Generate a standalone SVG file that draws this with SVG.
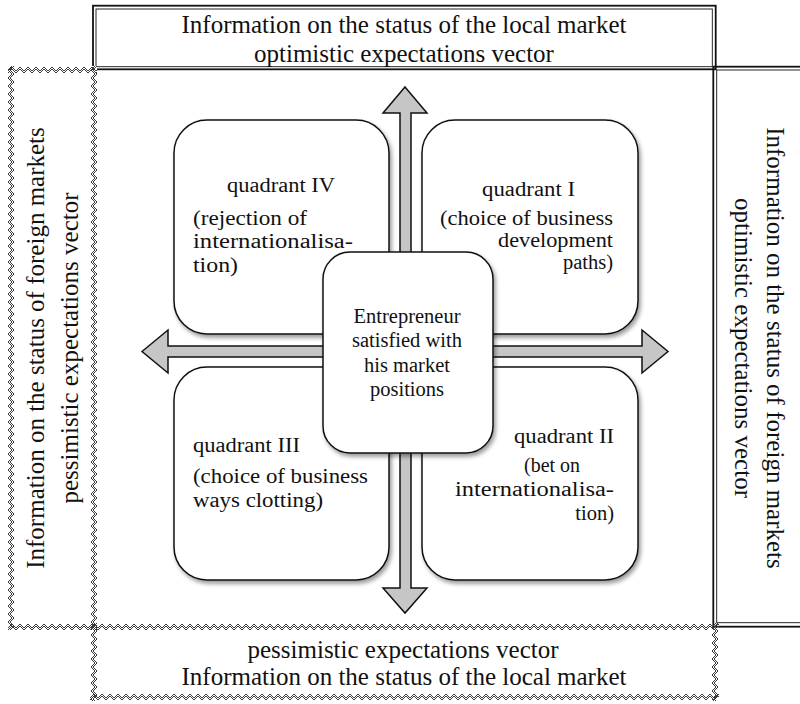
<svg xmlns="http://www.w3.org/2000/svg" width="800" height="704" viewBox="0 0 800 704">
  <style>
    .serif { font-family: "Liberation Serif", "Times New Roman", serif; fill: #111; }
    .big { font-size: 25px; }
    .mid { font-size: 20.5px; }
    .q { font-size: 20.5px; }
    .outer { fill: none; stroke: #111; stroke-width: 1.8; }
    .inner { fill: none; stroke: #111; stroke-width: 0.9; }
    .box { fill: #fff; stroke: #111; stroke-width: 1.5; }
    .arrow { fill: #c6c6c6; stroke: #111; stroke-width: 1.5; stroke-linejoin: miter; }
    .zz { fill: none; stroke: #3a3a3a; stroke-width: 1; }
  </style>
  <defs>
    <!-- wavy double border, horizontal and vertical strips -->
    <pattern id="zzH" width="8" height="8" patternUnits="userSpaceOnUse">
      <polyline class="zz" points="0,5 4,1 8,5"/>
      <polyline class="zz" points="0,7 4,3 8,7"/>
    </pattern>
    <pattern id="zzV" width="8" height="8" patternUnits="userSpaceOnUse">
      <polyline class="zz" points="5,0 1,4 5,8"/>
      <polyline class="zz" points="7,0 3,4 7,8"/>
    </pattern>
    <filter id="shadow" x="-10%" y="-10%" width="125%" height="125%">
      <feDropShadow dx="2" dy="3" stdDeviation="2.2" flood-color="#000" flood-opacity="0.4"/>
    </filter>
  </defs>

  <rect width="800" height="704" fill="#fff"/>

  <!-- top: local market, optimistic -->
  <g id="top-box">
    <rect class="outer" x="93" y="5.7" width="622.7" height="63.6"/>
    <rect class="inner" x="96" y="9" width="616.3" height="57.7"/>
    <text class="serif big" x="404" y="33" text-anchor="middle">Information on the status of the local market</text>
    <text class="serif big" x="404" y="61.5" text-anchor="middle">optimistic expectations vector</text>
  </g>

  <!-- right: foreign markets, optimistic -->
  <g id="right-box">
    <rect class="outer" x="713.3" y="66.7" width="95" height="560"/>
    <rect class="inner" x="716.7" y="70" width="95" height="552.7"/>
    <text class="serif big" transform="translate(767,348) rotate(90)" text-anchor="middle">Information on the status of foreign markets</text>
    <text class="serif big" transform="translate(735,348) rotate(90)" text-anchor="middle">optimistic expectations vector</text>
  </g>

  <!-- left: foreign markets, pessimistic -->
  <g id="left-box">
    <rect x="8" y="66" width="89" height="564" fill="#fff"/>
    <rect fill="url(#zzH)" width="89" height="8" transform="translate(8,66)"/>
    <rect fill="url(#zzH)" width="89" height="8" transform="translate(8,623)"/>
    <rect fill="url(#zzV)" width="8" height="564" transform="translate(7,66)"/>
    <rect fill="url(#zzV)" width="8" height="564" transform="translate(90,66)"/>
    <text class="serif big" transform="translate(44,348) rotate(-90)" text-anchor="middle">Information on the status of foreign markets</text>
    <text class="serif big" transform="translate(78,348) rotate(-90)" text-anchor="middle">pessimistic expectations vector</text>
  </g>

  <!-- bottom: local market, pessimistic -->
  <g id="bottom-box">
    <rect fill="url(#zzH)" width="629" height="8" transform="translate(90,623)"/>
    <rect fill="url(#zzH)" width="629" height="8" transform="translate(90,693)"/>
    <rect fill="url(#zzV)" width="8" height="78" transform="translate(90,623)"/>
    <rect fill="url(#zzV)" width="8" height="78" transform="translate(711,623)"/>
    <text class="serif big" x="403" y="658" text-anchor="middle">pessimistic expectations vector</text>
    <text class="serif big" x="404" y="685" text-anchor="middle">Information on the status of the local market</text>
  </g>

  <!-- direction arrows -->
  <g id="connectors">
    <polygon class="arrow" points="405,87 427,113 411,113 411,588 427,588 405,613 383,588 400,588 400,113 383,113"/>
    <polygon class="arrow" points="142,351.5 168,330 168,346 642,346 642,330 668,351.5 642,373 642,357 168,357 168,373"/>
  </g>

  <g id="quadrant-4">
    <rect class="box" x="174" y="120" width="215" height="214" rx="33" filter="url(#shadow)"/>
    <text class="serif q" x="227" y="192" textLength="108" lengthAdjust="spacingAndGlyphs">quadrant IV</text>
    <text class="serif q" x="193" y="225" textLength="114" lengthAdjust="spacingAndGlyphs">(rejection of</text>
    <text class="serif q" x="193" y="248" textLength="160" lengthAdjust="spacingAndGlyphs">internationalisa-</text>
    <text class="serif q" x="193" y="272" textLength="45" lengthAdjust="spacingAndGlyphs">tion)</text>
  </g>

  <g id="quadrant-1">
    <rect class="box" x="422" y="120" width="216" height="214" rx="33" filter="url(#shadow)"/>
    <text class="serif q" x="482" y="196" textLength="93" lengthAdjust="spacingAndGlyphs">quadrant I</text>
    <text class="serif q" x="440" y="225" textLength="173" lengthAdjust="spacingAndGlyphs">(choice of business</text>
    <text class="serif q" x="498" y="247" textLength="115" lengthAdjust="spacingAndGlyphs">development</text>
    <text class="serif q" x="613" y="269" text-anchor="end">paths)</text>
  </g>

  <g id="quadrant-3">
    <rect class="box" x="174" y="367" width="215" height="213" rx="33" filter="url(#shadow)"/>
    <text class="serif q" x="193" y="452" textLength="107" lengthAdjust="spacingAndGlyphs">quadrant III</text>
    <text class="serif q" x="193" y="483" textLength="175" lengthAdjust="spacingAndGlyphs">(choice of business</text>
    <text class="serif q" x="193" y="507" textLength="130" lengthAdjust="spacingAndGlyphs">ways clotting)</text>
  </g>

  <g id="quadrant-2">
    <rect class="box" x="422" y="367" width="216" height="213" rx="33" filter="url(#shadow)"/>
    <text class="serif q" x="514" y="443" textLength="100" lengthAdjust="spacingAndGlyphs">quadrant II</text>
    <text class="serif q" x="524" y="472" textLength="56" lengthAdjust="spacingAndGlyphs">(bet on</text>
    <text class="serif q" x="455" y="496" textLength="159" lengthAdjust="spacingAndGlyphs">internationalisa-</text>
    <text class="serif q" x="614" y="520" text-anchor="end">tion)</text>
  </g>

  <g id="center">
    <rect class="box" x="323" y="252" width="170" height="201" rx="27" filter="url(#shadow)"/>
    <text class="serif mid" x="407" y="323" text-anchor="middle">Entrepreneur</text>
    <text class="serif mid" x="407" y="347" text-anchor="middle">satisfied with</text>
    <text class="serif mid" x="407" y="372" text-anchor="middle">his market</text>
    <text class="serif mid" x="407" y="396" text-anchor="middle">positions</text>
  </g>
</svg>
